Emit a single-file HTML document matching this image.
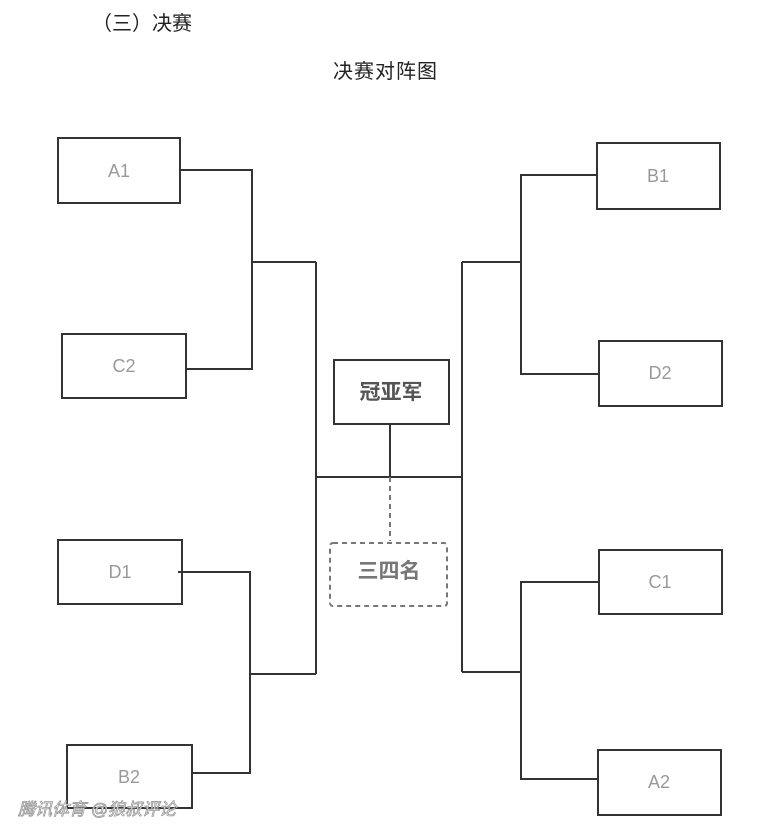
<!DOCTYPE html>
<html><head><meta charset="utf-8"><style>
body{margin:0;background:#fff;width:778px;height:833px;overflow:hidden}
svg{display:block}
text{font-family:"Liberation Sans","Noto Sans CJK SC",sans-serif}
</style></head><body>
<svg width="778" height="833" viewBox="0 0 778 833">
<text x="92" y="30" font-size="20" fill="#222" font-family="'Noto Serif CJK SC',serif">（三）决赛</text>
<text x="333" y="78" font-size="20" fill="#222" font-family="'Noto Serif CJK SC',serif" letter-spacing="1">决赛对阵图</text>
<g fill="none" stroke="#333" stroke-width="2">
<rect x="58" y="138" width="122" height="65"/>
<rect x="62" y="334" width="124" height="64"/>
<rect x="58" y="540" width="124" height="64"/>
<rect x="67" y="745" width="125" height="63"/>
<rect x="597" y="143" width="123" height="66"/>
<rect x="599" y="341" width="123" height="65"/>
<rect x="599" y="550" width="123" height="64"/>
<rect x="598" y="750" width="123" height="65"/>
<rect x="334" y="360" width="115" height="64"/>
<polyline points="180,170 252,170 252,369 186,369"/>
<line x1="252" y1="262" x2="316" y2="262"/>
<line x1="316" y1="262" x2="316" y2="674"/>
<polyline points="178,572 250,572 250,773 192,773"/>
<line x1="250" y1="674" x2="316" y2="674"/>
<line x1="316" y1="477" x2="462" y2="477"/>
<line x1="462" y1="262" x2="462" y2="672"/>
<line x1="462" y1="262" x2="521" y2="262"/>
<polyline points="597,175 521,175 521,374 599,374"/>
<polyline points="599,582 521,582 521,779 598,779"/>
<line x1="462" y1="672" x2="521" y2="672"/>
<line x1="390" y1="424" x2="390" y2="477"/>
</g>
<g fill="none" stroke="#777" stroke-width="2" stroke-dasharray="5,4">
<line x1="390" y1="477" x2="390" y2="541"/>
<rect x="330" y="543" width="117" height="63" rx="3"/>
</g>
<g font-size="18" fill="#999" text-anchor="middle">
<text x="119" y="177">A1</text>
<text x="124" y="372">C2</text>
<text x="120" y="578">D1</text>
<text x="129" y="783">B2</text>
<text x="658" y="182">B1</text>
<text x="660" y="379">D2</text>
<text x="660" y="588">C1</text>
<text x="659" y="788">A2</text>
</g>
<text x="391" y="399" font-size="21" font-weight="bold" fill="#555" text-anchor="middle">冠亚军</text>
<text x="389" y="578" font-size="21" font-weight="bold" fill="#777" text-anchor="middle">三四名</text>
<text x="18" y="815" font-size="17" fill="#fff" stroke="#999" stroke-width="0.8" font-style="italic">腾讯体育 @狼叔评论</text>
</svg>
</body></html>
